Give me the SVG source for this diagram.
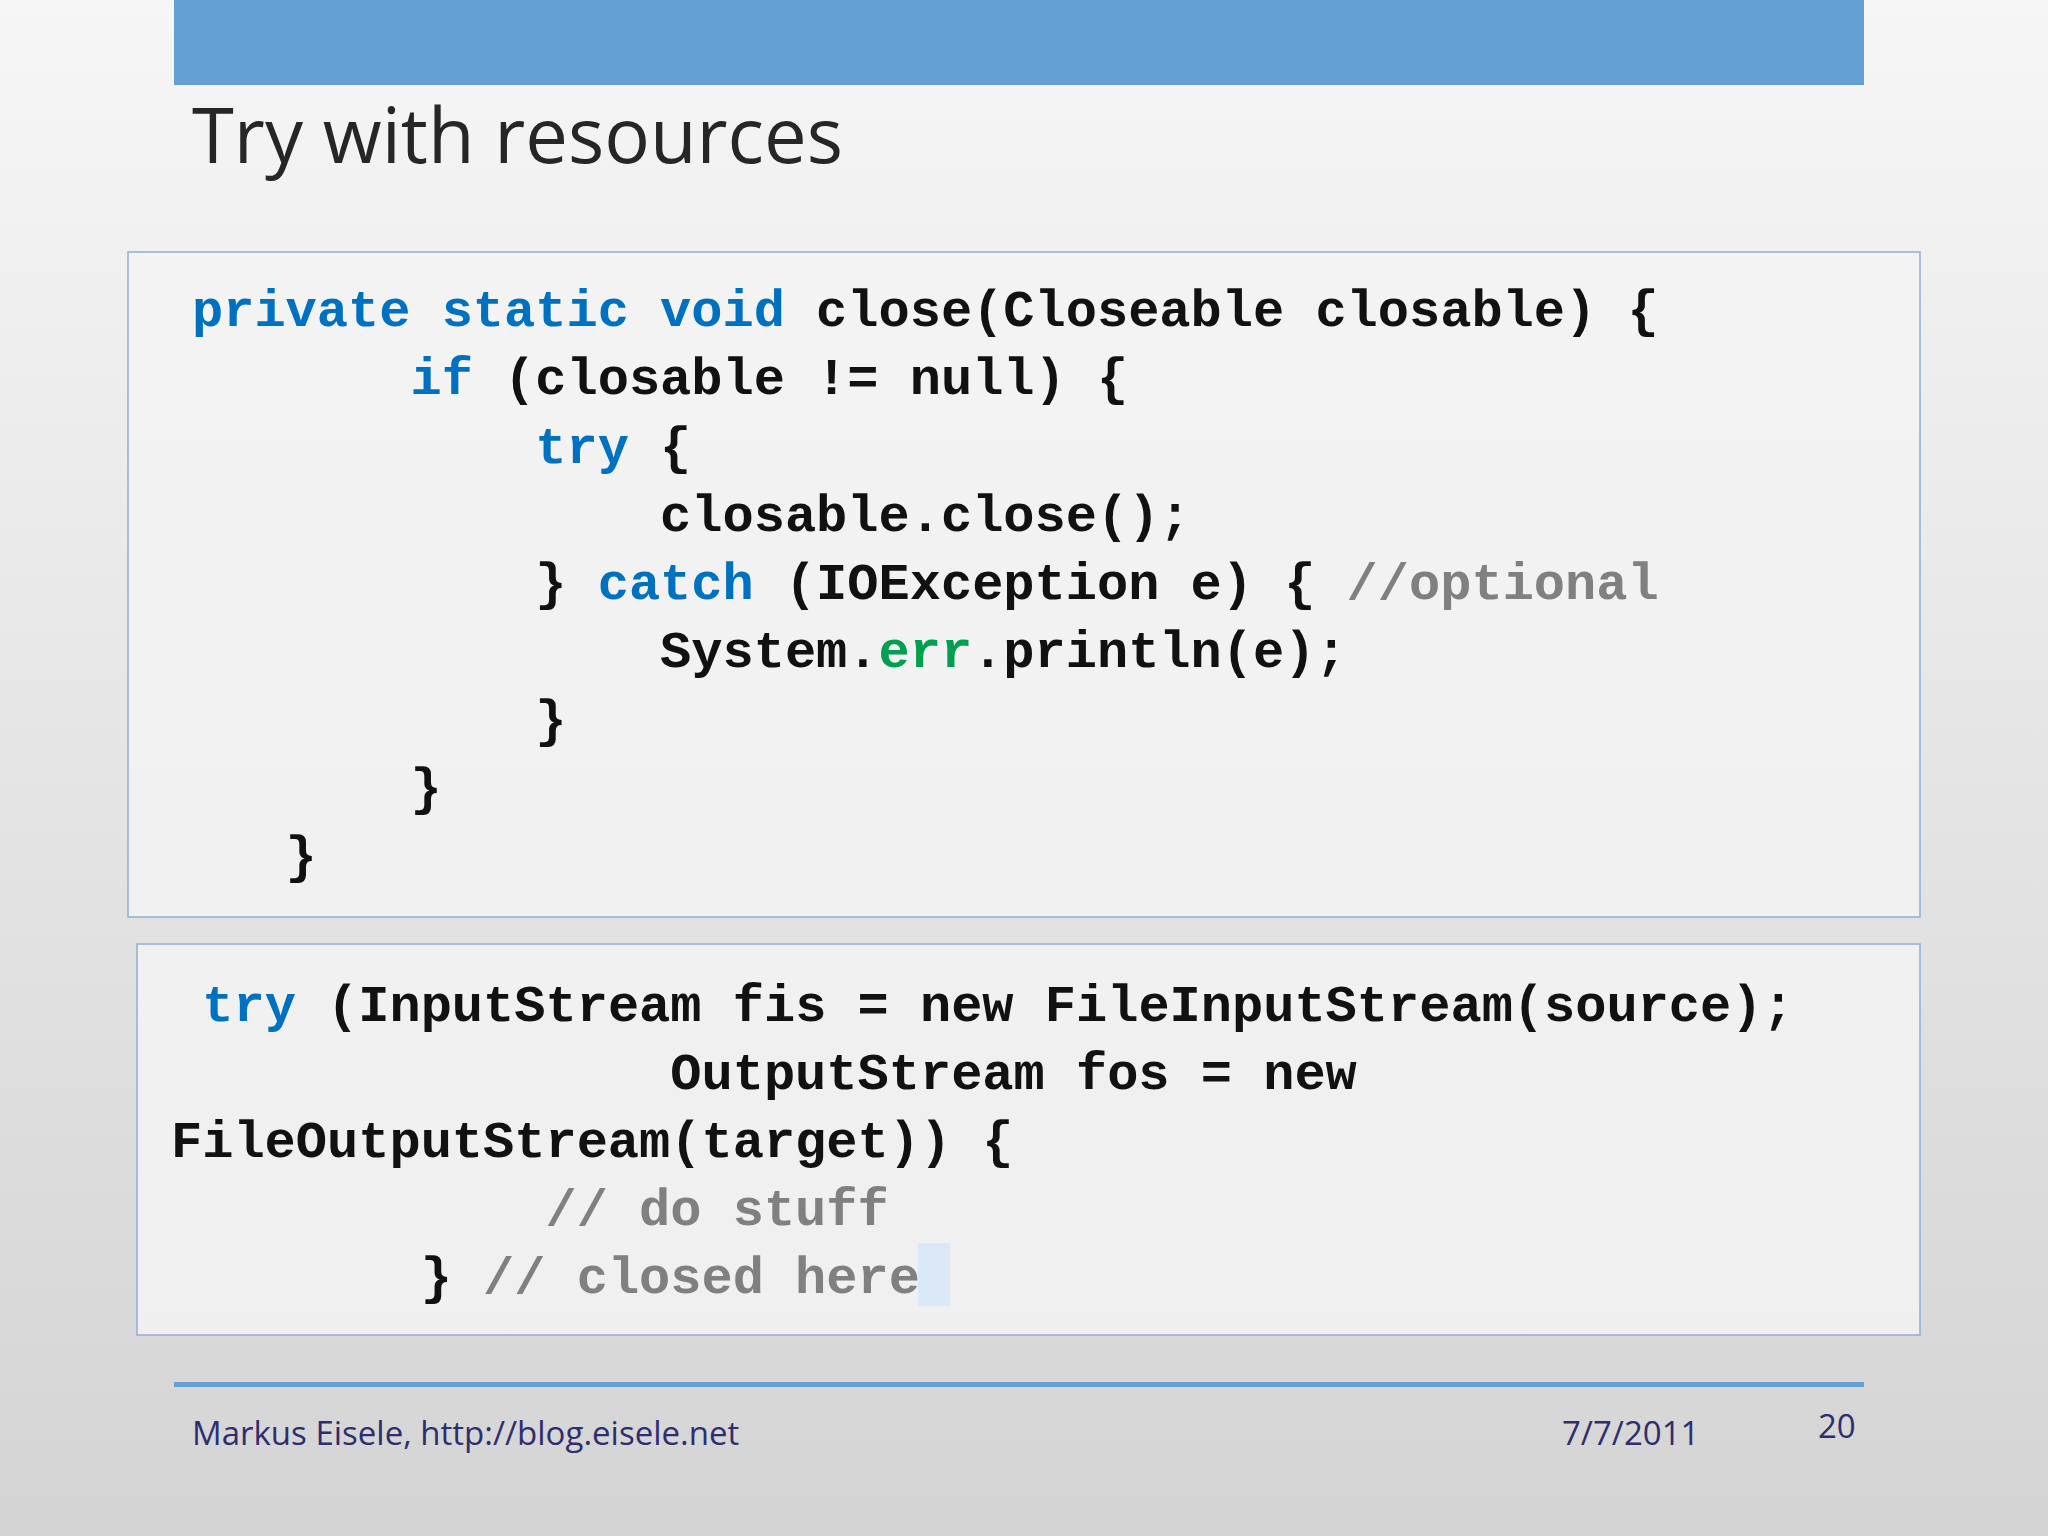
<svg xmlns="http://www.w3.org/2000/svg" width="2048" height="1536" viewBox="0 0 2048 1536">
<defs>
<linearGradient id="bg" x1="0" y1="0" x2="0" y2="1"><stop offset="0" stop-color="#f6f6f6"/><stop offset="1" stop-color="#d4d4d4"/></linearGradient>
<style>
.code{font-family:"Liberation Mono","DejaVu Sans Mono",monospace;font-weight:bold;font-size:52px;fill:#111;white-space:pre}
.k{fill:#0070c0}.c{fill:#808080}.g{fill:#00a050}
.box{fill:#f3f3f4;fill-opacity:.85;stroke:#8eaed2;stroke-width:1.5}
.ft{font-family:"Open Sans","DejaVu Sans",sans-serif;font-size:33px;fill:#2e2e6e}
</style>
</defs>
<rect width="2048" height="1536" fill="url(#bg)"/>
<rect x="174" y="0" width="1690" height="85" fill="#64a0d4"/>
<text x="192" y="163" font-family="Open Sans, DejaVu Sans, sans-serif" font-size="76" fill="#262626">Try with resources</text>
<g id="box1">
<rect class="box" x="128" y="252" width="1792" height="665"/>
<text class="code" xml:space="preserve"><tspan x="192" y="326"><tspan class="k">private static void</tspan> close(Closeable closable) {</tspan><tspan x="192" y="394">       <tspan class="k">if</tspan> (closable != null) {</tspan><tspan x="192" y="463">           <tspan class="k">try</tspan> {</tspan><tspan x="192" y="531">               closable.close();</tspan><tspan x="192" y="599">           } <tspan class="k">catch</tspan> (IOException e) { <tspan class="c">//optional</tspan></tspan><tspan x="192" y="667">               System.<tspan class="g">err</tspan>.println(e);</tspan><tspan x="192" y="736">           }</tspan><tspan x="192" y="804">       }</tspan><tspan x="192" y="872">   }</tspan></text>
</g>
<g id="box2">
<rect class="box" x="137" y="944" width="1783" height="391"/>
<rect x="918" y="1243" width="32" height="63" fill="#dbe8f8"/>
<text class="code" xml:space="preserve"><tspan x="171" y="1021"> <tspan class="k">try</tspan> (InputStream fis = new FileInputStream(source);</tspan><tspan x="171" y="1089">                OutputStream fos = new</tspan><tspan x="171" y="1157">FileOutputStream(target)) {</tspan><tspan x="171" y="1225">            <tspan class="c">// do stuff</tspan></tspan><tspan x="171" y="1293">        } <tspan class="c">// closed here</tspan></tspan></text>
</g>
<rect x="174" y="1382" width="1690" height="5" fill="#64a0d4"/>
<text class="ft" x="192" y="1445">Markus Eisele, http://blog.eisele.net</text>
<text class="ft" x="1562" y="1445">7/7/2011</text>
<text class="ft" x="1818" y="1438">20</text>
</svg>
